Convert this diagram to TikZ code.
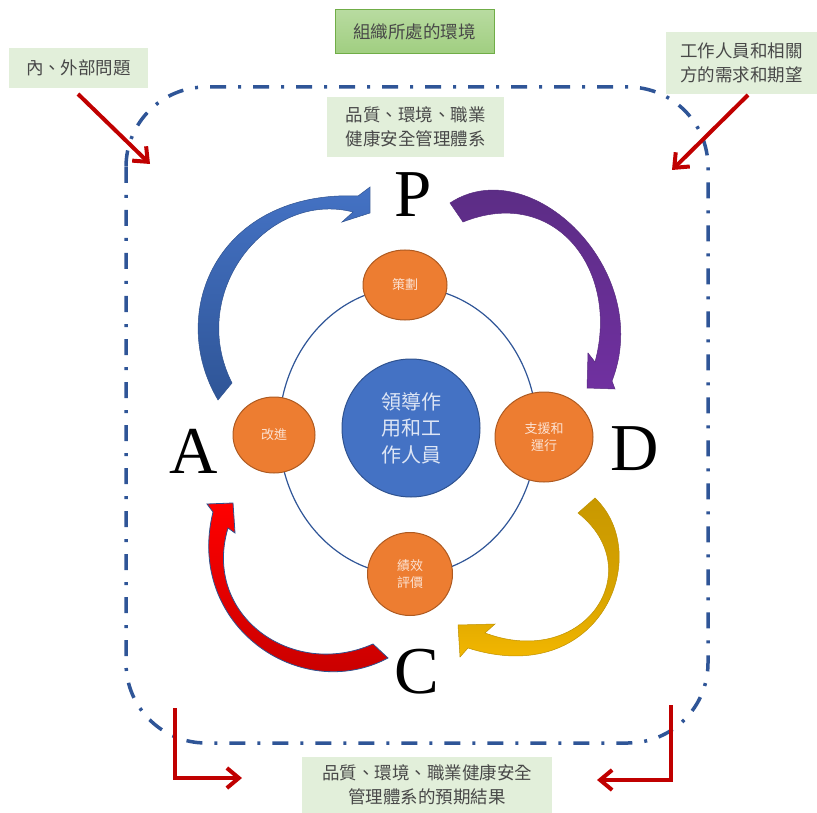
\documentclass[tikz,border=0pt]{standalone}
\usepackage{fontspec}
\setmainfont{Liberation Serif}
\newfontfamily\cjk{Noto Sans CJK TC}
\usetikzlibrary{arrows.meta,shapes.geometric}

\definecolor{boxgreen}{RGB}{226,239,218}
\definecolor{dkgreen}{RGB}{112,173,71}
\definecolor{gtop}{RGB}{184,219,160}
\definecolor{gbot}{RGB}{160,206,128}
\definecolor{frameblue}{RGB}{47,85,151}
\definecolor{arrred}{RGB}{192,0,0}
\definecolor{orng}{RGB}{237,125,49}
\definecolor{orngdk}{RGB}{174,90,33}
\definecolor{cblue}{RGB}{68,114,196}
\definecolor{cbluedk}{RGB}{47,82,143}
\definecolor{txtgray}{RGB}{72,72,72}
\definecolor{paleor}{RGB}{252,226,210}
\definecolor{paleblue}{RGB}{222,230,245}
\definecolor{purtop}{RGB}{88,44,128}
\definecolor{purbot}{RGB}{112,48,160}
\definecolor{goldtop}{RGB}{200,152,0}
\definecolor{goldbot}{RGB}{255,192,0}
\definecolor{golddk}{RGB}{190,145,0}
\definecolor{redtop}{RGB}{255,0,0}
\definecolor{redbot}{RGB}{192,0,0}
\definecolor{bluebot}{RGB}{47,85,151}

\tikzset{
  lbl/.style={fill=boxgreen, text=txtgray, font=\cjk\fontsize{17.5}{23.5}\selectfont,
    align=center, inner sep=0pt},
  redarr/.style={draw=arrred, line width=4pt,
    -{Straight Barb[length=12pt,width=20pt]}},
  orb/.style={ellipse, draw=orngdk, line width=1pt, fill=orng, text=paleor,
    font=\cjk\fontsize{13}{17}\selectfont, align=center, inner sep=0pt},
  letter/.style={font=\fontsize{67}{67}\selectfont, inner sep=0pt, anchor=base},
  framestyle/.style={draw=frameblue, line width=3.5pt,
    dash pattern=on 16pt off 12pt on 3pt off 12pt, rounded corners=80pt},
}

\begin{document}
\begin{tikzpicture}[x=1pt,y=-1pt]
\useasboundingbox (0,0) rectangle (817,813);

% dash-dot frame
\draw[framestyle] (126,87) rectangle (708,743);

% label boxes
\node[lbl, top color=gtop, bottom color=gbot, draw=dkgreen, line width=1pt,
  minimum width=159pt, minimum height=44pt] (env) at (414.5,32) {組織所處的環境};
\node[lbl, minimum width=139pt, minimum height=40pt] (issues) at (78.5,68) {內、外部問題};
\node[lbl, minimum width=151pt, minimum height=62pt] (needs) at (741.5,63)
  {工作人員和相關\\方的需求和期望};
\node[lbl, minimum width=177pt, minimum height=60pt] (sys) at (415.5,127)
  {品質、環境、職業\\健康安全管理體系};
\node[lbl, minimum width=250pt, minimum height=56pt] (result) at (427,785)
  {品質、環境、職業健康安全\\管理體系的預期結果};

% red arrows
\coordinate (la1) at (78,94);
\coordinate (la2) at (150,164);
\coordinate (ra1) at (748,95);
\coordinate (ra2) at (672,170);
\coordinate (lb1) at (175,708);
\coordinate (lb2) at (242,778);
\coordinate (rb1) at (671,705);
\coordinate (rb2) at (597,780);
\draw[redarr] (la1) -- (la2);
\draw[redarr] (ra1) -- (ra2);
\draw[redarr] (lb1) |- (lb2);
\draw[redarr] (rb1) |- (rb2);

% thin ellipse
\draw[draw=frameblue, line width=1.2pt] (408,431) ellipse [x radius=129pt, y radius=144pt];

% centre circle
\node[circle, draw=cbluedk, line width=1pt, fill=cblue, text=paleblue,
  minimum size=138pt, inner sep=0pt, align=center,
  font=\cjk\fontsize{20}{26.5}\selectfont] (lead) at (411,428) {領導作\\用和工\\作人員};

% orange ellipses
\node[orb, minimum width=84pt, minimum height=70pt] (plan) at (405,285) {策劃};
\node[orb, minimum width=82pt, minimum height=76pt] (impr) at (274,435) {改進};
\node[orb, minimum width=98pt, minimum height=90pt] (ops) at (544,437) {支援和\\運行};
\node[orb, minimum width=85pt, minimum height=83pt] (eval) at (410,574) {績效\\評價};

% curved block arrows
% A -> P (blue)
\shadedraw[top color=cblue, bottom color=bluebot, draw=cbluedk, line width=0.5pt]
  (218,400) .. controls (165,310) and (220,190) .. (358,196)
  -- (370,187) -- (370,213) -- (342,222) -- (353,212)
  .. controls (268,190) and (186,292) .. (232,383)
  -- cycle;
% P -> D (purple)
\shadedraw[top color=purtop, bottom color=purbot, draw=purtop, line width=0.5pt]
  (450,203) .. controls (530,150) and (655,270) .. (612,381)
  -- (615,389) -- (587,388) -- (588,353) -- (595,362)
  .. controls (620,270) and (555,185) .. (463,222)
  -- cycle;
% D -> C (gold)
\shadedraw[top color=goldtop, bottom color=goldbot, middle color=goldtop!70!goldbot,
  draw=golddk, line width=0.5pt]
  (595,498) .. controls (655,555) and (600,690) .. (468,648)
  -- (460,657) -- (458,625) -- (495,624) -- (485,633)
  .. controls (585,670) and (650,570) .. (578,513)
  -- cycle;
% C -> A (red)
\shadedraw[top color=redtop, bottom color=redbot, draw=cbluedk, line width=0.8pt]
  (388,658) .. controls (300,705) and (185,625) .. (213,512)
  -- (207,504) -- (233,503) -- (235,533) -- (228,528)
  .. controls (202,615) and (292,680) .. (373,644)
  -- cycle;

% PDCA letters
\node[letter] (P) at (413,217) {P};
\node[letter] (D) at (635,470) {D};
\node[letter] (C) at (417,693) {C};
\node[letter] (A) at (194,473) {A};
\end{tikzpicture}
\end{document}
